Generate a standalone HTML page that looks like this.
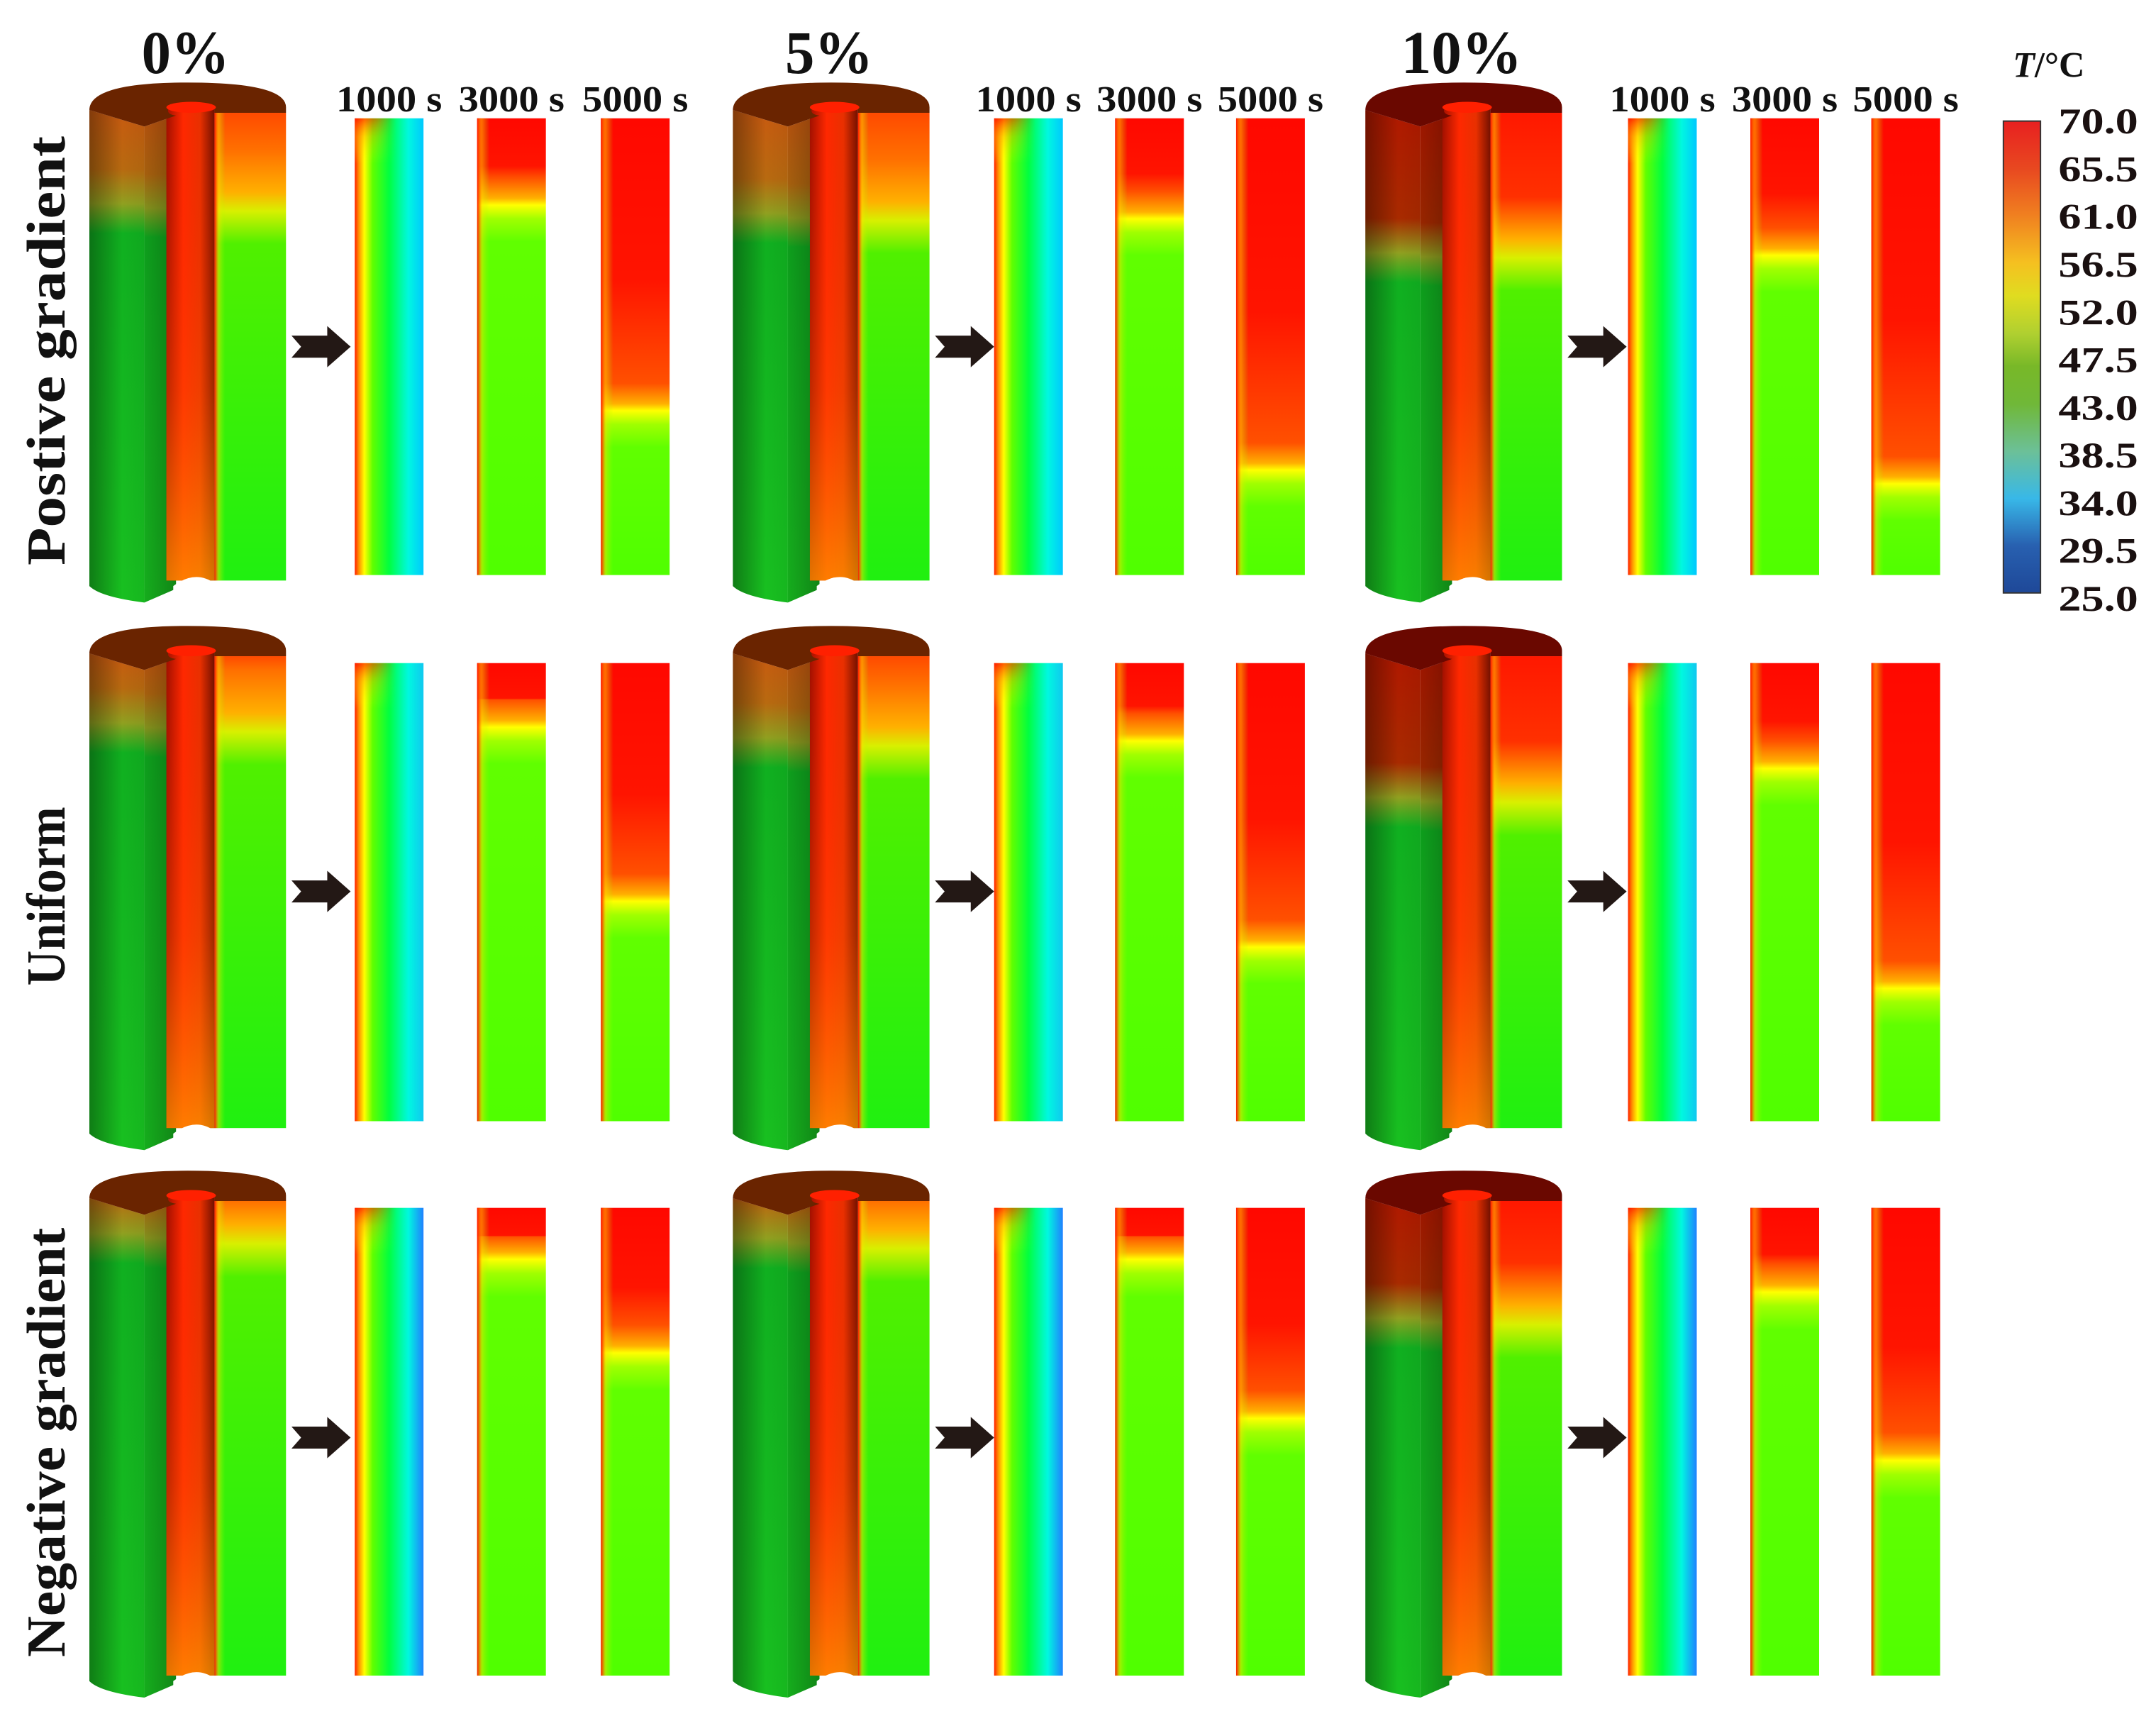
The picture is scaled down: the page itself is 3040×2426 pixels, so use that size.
<!DOCTYPE html>
<html><head><meta charset="utf-8">
<style>html,body{margin:0;padding:0;background:#fff;}svg{display:block;}</style>
</head><body>
<svg id="fig" xmlns="http://www.w3.org/2000/svg" width="3040" height="2426" viewBox="0 0 1568 1251" preserveAspectRatio="none" font-family="'Liberation Serif', serif" font-weight="bold">
<defs id="defs">
  <linearGradient id="cbar" x1="0" y1="0" x2="0" y2="1">
    <stop offset="0" stop-color="#e82020"/><stop offset="0.1" stop-color="#e84820"/>
    <stop offset="0.2" stop-color="#f08020"/><stop offset="0.3" stop-color="#f5c020"/>
    <stop offset="0.37" stop-color="#e0dc20"/><stop offset="0.45" stop-color="#b0d030"/>
    <stop offset="0.52" stop-color="#78b828"/><stop offset="0.6" stop-color="#70b838"/>
    <stop offset="0.7" stop-color="#6cc098"/><stop offset="0.8" stop-color="#38b8e8"/>
    <stop offset="0.9" stop-color="#2860b0"/><stop offset="1" stop-color="#1e4898"/>
  </linearGradient>
  <linearGradient id="leftEdge" x1="0" y1="0" x2="1" y2="0">
    <stop offset="0" stop-color="#ff1800" stop-opacity="1"/>
    <stop offset="0.05" stop-color="#ff6000" stop-opacity="0.8"/>
    <stop offset="0.12" stop-color="#ffe000" stop-opacity="0.45"/>
    <stop offset="0.3" stop-color="#a0ff00" stop-opacity="0"/>
  </linearGradient>
  <linearGradient id="tube" x1="0" y1="0" x2="1" y2="0">
    <stop offset="0" stop-color="#a01000"/><stop offset="0.35" stop-color="#ff2800"/>
    <stop offset="0.7" stop-color="#e83000"/><stop offset="1" stop-color="#701000"/>
  </linearGradient>
  <linearGradient id="tubeV" x1="0" y1="0" x2="0" y2="1">
    <stop offset="0" stop-color="#ff2000" stop-opacity="0"/>
    <stop offset="0.6" stop-color="#ff6000" stop-opacity="0.3"/>
    <stop offset="1" stop-color="#ffa000" stop-opacity="0.7"/>
  </linearGradient>
  <linearGradient id="shellShade" x1="0" y1="0" x2="1" y2="0">
    <stop offset="0" stop-color="#000" stop-opacity="0.35"/>
    <stop offset="0.6" stop-color="#000" stop-opacity="0"/>
    <stop offset="1" stop-color="#000" stop-opacity="0.05"/>
  </linearGradient>
  <linearGradient id="wedgeShade" x1="0" y1="0" x2="1" y2="0">
    <stop offset="0" stop-color="#000" stop-opacity="0.1"/>
    <stop offset="1" stop-color="#000" stop-opacity="0.3"/>
  </linearGradient>
</defs>
<g id="content"></g>
</svg>
<script>
// ---- data ----
var groups = ['0%', '5%', '10%'];
var rowsLabels = ['Postive gradient', 'Uniform', 'Negative gradient'];
var times = ['1000 s', '3000 s', '5000 s'];
var cbarTicks = ['70.0','65.5','61.0','56.5','52.0','47.5','43.0','38.5','34.0','29.5','25.0'];
// hot-front depth fraction (top red zone) for 3000 s strips [row][group]
var front3000 = [[0.19, 0.22, 0.30], [0.14, 0.17, 0.23], [0.11, 0.11, 0.18]];
// hot-front depth fraction for 5000 s strips [row][group]
var front5000 = [[0.64, 0.77, 0.80], [0.52, 0.62, 0.71], [0.31, 0.45, 0.54]];
// hot-front depth fraction on cylinder at start [row][group]
var frontCyl = [[0.20, 0.22, 0.30], [0.15, 0.18, 0.30], [0.08, 0.09, 0.25]];
// far-side color of 1000 s strip [row]
var cold1000 = ['#00c8ff', '#10c8f0', '#2080ff'];

var NS = 'http://www.w3.org/2000/svg';
var content = document.getElementById('content');
var defs = document.getElementById('defs');
function el(tag, attrs, parent) {
  var e = document.createElementNS(NS, tag);
  for (var k in attrs) e.setAttribute(k, attrs[k]);
  (parent || content).appendChild(e);
  return e;
}
function grad(id, vertical, stops) {
  var g = el('linearGradient', {id: id, x1: 0, y1: 0, x2: vertical ? 0 : 1, y2: vertical ? 1 : 0}, defs);
  stops.forEach(function (s) { el('stop', {offset: s[0], 'stop-color': s[1], 'stop-opacity': s[2] == null ? 1 : s[2]}, g); });
  return 'url(#' + id + ')';
}
function clamp(v) { return Math.max(0, Math.min(1, v)); }
function frontStops(f) {
  return [[0, '#ff0800'], [clamp(f * 0.55), '#ff1400'], [clamp(f - 0.06), '#ff5000'], [clamp(f - 0.015), '#ffb000'], [clamp(f), '#ffff00'], [clamp(f + 0.03), '#a0ff00'], [clamp(f + 0.08), '#60ff00'], [1, '#50ff00']];
}

// layout (display units)
var groupX = [65, 533, 993];
var stripX = [[258, 347, 437], [723, 811, 899], [1184, 1273, 1361]];
var stripW = 50;
var rowTop = [86, 482, 878], rowBot = [418, 815, 1218];
var cylTop = [82, 477, 873], cylBot = [422, 820, 1218];
var arrowY = [252, 648, 1045];
var arrowX = [212, 680, 1140];

groups.forEach(function (g, gi) {
  var t = el('text', {x: groupX[gi] + 70, y: 53, 'text-anchor': 'middle', 'font-size': 44, textLength: g.length > 2 ? 88 : 64, lengthAdjust: 'spacingAndGlyphs', fill: '#111'});
  t.textContent = g;
  
  
  times.forEach(function (tm, ti) {
    var tt = el('text', {x: stripX[gi][ti] + stripW / 2, y: 81, 'text-anchor': 'middle', 'font-size': 27, textLength: 77, lengthAdjust: 'spacingAndGlyphs', fill: '#111'});
    tt.textContent = tm;
    
    
  });
});

rowsLabels.forEach(function (r, ri) {
  var cy = (cylTop[ri] + cylBot[ri]) / 2 + 3;
  var len = r.length > 10 ? 312 : 130;
  var t = el('text', {x: 0, y: 0, transform: 'translate(47,' + cy + ') rotate(-90)', 'text-anchor': 'middle', 'font-size': 40, textLength: len, lengthAdjust: 'spacingAndGlyphs', fill: '#111'});
  t.textContent = r;
  
  
});

function drawCylinder(ri, gi) {
  var x0 = groupX[gi], top = cylTop[ri], bot = cylBot[ri];
  var h = bot - top;
  var f = frontCyl[ri][gi];
  var g = el('g', {});
  
  
  var dark = gi === 2;
  var topCol = dark ? '#b01800' : '#c85a10';
  var shellFill = grad('shell' + ri + gi, true, [[0, topCol], [clamp(f - 0.08), dark ? '#a82a00' : '#b86a10'], [clamp(f - 0.01), '#90a020'], [clamp(f + 0.05), '#10b020'], [1, '#18c020']]);
  var xa = x0, xb = x0 + 40, xc = x0 + 63, xd = x0 + 91, xe = x0 + 143;
  var shellD = 'M' + xa + ',' + (top - 2) + ' L' + xb + ',' + (top + 10) + ' L' + xb + ',' + (bot + 16) + ' Q' + (xa + 8) + ',' + (bot + 12) + ' ' + xa + ',' + (bot + 4) + ' Z';
  el('path', {d: shellD, fill: shellFill}, g);
  el('path', {d: shellD, fill: 'url(#shellShade)'}, g);
  var wD = 'M' + xb + ',' + (top + 10) + ' L' + xc + ',' + (top + 2) + ' L' + xc + ',' + (bot + 6) + ' L' + xb + ',' + (bot + 16) + ' Z';
  el('path', {d: wD, fill: shellFill}, g);
  el('path', {d: wD, fill: 'url(#wedgeShade)'}, g);
  el('rect', {x: xc - 7, y: top - 6, width: xd - xc + 7, height: h + 6, fill: 'url(#tube)'}, g);
  el('rect', {x: xc - 7, y: top - 6, width: xd - xc + 7, height: h + 6, fill: 'url(#tubeV)'}, g);
  el('path', {d: 'M' + (xc - 2) + ',' + (bot + 4) + ' Q' + ((xc + xd) / 2) + ',' + (bot - 8) + ' ' + xd + ',' + (bot + 2) + ' L' + xd + ',' + (bot + 10) + ' L' + (xc - 2) + ',' + (bot + 10) + ' Z', fill: '#fff'}, g);
  var faceFill = grad('face' + ri + gi, true, [[0, dark ? '#ff1800' : '#ff4a00'], [clamp(f - 0.12), dark ? '#ff3000' : '#ff7000'], [clamp(f - 0.03), '#ffb000'], [clamp(f + 0.01), '#d8f000'], [clamp(f + 0.08), '#50f000'], [1, '#20f010']]);
  el('rect', {x: xd, y: top, width: xe - xd, height: h, fill: faceFill}, g);
  el('rect', {x: xd, y: top, width: (xe - xd) * 0.5, height: h, fill: 'url(#leftEdge)'}, g);
  // top cap
  el('path', {d: 'M' + xa + ',' + (top - 2) + ' Q' + xa + ',' + (top - 22) + ' ' + ((xa + xe) / 2) + ',' + (top - 22) + ' Q' + xe + ',' + (top - 22) + ' ' + xe + ',' + (top - 4) + ' L' + xe + ',' + top + ' L' + xd + ',' + top + ' L' + xd + ',' + (top - 4) + ' Q' + ((xc + xd) / 2) + ',' + (top - 9) + ' ' + (xc - 5) + ',' + (top - 4) + ' Q' + (xc - 8) + ',' + (top + 1) + ' ' + xc + ',' + (top + 2) + ' L' + xb + ',' + (top + 10) + ' Z', fill: dark ? '#6a0800' : '#6a2400'}, g);
  el('ellipse', {cx: (xc + xd) / 2 - 3, cy: top - 4, rx: (xd - xc) / 2 + 4, ry: 4, fill: '#ff2000'}, g);
}

function drawStrips(ri, gi) {
  var y0 = rowTop[ri], h = rowBot[ri] - rowTop[ri];
  var s1 = el('g', {});
  
  
  var fill1 = grad('s1k' + ri + gi, false, [[0, '#ff2000'], [0.06, '#ff9000'], [0.14, '#ffff00'], [0.26, '#60ff00'], [0.5, '#00ff40'], [0.78, '#00f8e0'], [1, cold1000[ri]]]);
  el('rect', {x: stripX[gi][0], y: y0, width: stripW, height: h, fill: fill1}, s1);
  var tr = grad('s1kt' + ri + gi, true, [[0, '#ff2000', 0.9], [0.04, '#ffa000', 0.5], [0.1, '#ffff00', 0]]);
  var trh = grad('s1kth' + ri + gi, false, [[0, '#fff', 1], [0.5, '#fff', 0.6], [1, '#fff', 0]]);
  var m = el('mask', {id: 'm1k' + ri + gi}, defs);
  el('rect', {x: stripX[gi][0], y: y0, width: stripW * 0.6, height: h, fill: trh}, m);
  el('rect', {x: stripX[gi][0], y: y0, width: stripW * 0.6, height: h, fill: tr, mask: 'url(#m1k' + ri + gi + ')'}, s1);
  [front3000, front5000].forEach(function (arr, k) {
    var s = el('g', {});
    
    
    var fill = grad('s' + (k + 3) + 'k' + ri + gi, true, frontStops(arr[ri][gi]));
    el('rect', {x: stripX[gi][k + 1], y: y0, width: stripW, height: h, fill: fill}, s);
    el('rect', {x: stripX[gi][k + 1], y: y0, width: stripW * 0.6, height: h, fill: 'url(#leftEdge)'}, s);
  });
}

function drawArrow(ri, gi) {
  var x = arrowX[gi], y = arrowY[ri];
  var a = el('polygon', {points: [x, y - 8, x + 26, y - 8, x + 26, y - 15, x + 43, y, x + 26, y + 15, x + 26, y + 8, x, y + 8, x + 7, y].join(' '), fill: '#231815'});
  
  
}

for (var ri = 0; ri < 3; ri++) for (var gi = 0; gi < 3; gi++) {
  drawCylinder(ri, gi); drawStrips(ri, gi); drawArrow(ri, gi);
}

var cb = el('rect', {x: 1457, y: 88, width: 27, height: 343, fill: 'url(#cbar)', stroke: '#333', 'stroke-width': 1});


var ct = el('text', {x: 1490, y: 56, 'text-anchor': 'middle', 'font-size': 26, fill: '#111'});
ct.innerHTML = '<tspan font-style="italic">T</tspan>/°C';


cbarTicks.forEach(function (v, i) {
  var y = 88 + i * (347 / (cbarTicks.length - 1));
  var t = el('text', {x: 1497, y: y + 9, 'font-size': 26, textLength: 58, lengthAdjust: 'spacingAndGlyphs', fill: '#1a1010'});
  t.textContent = v;
  
  
});
</script>
</body></html>
